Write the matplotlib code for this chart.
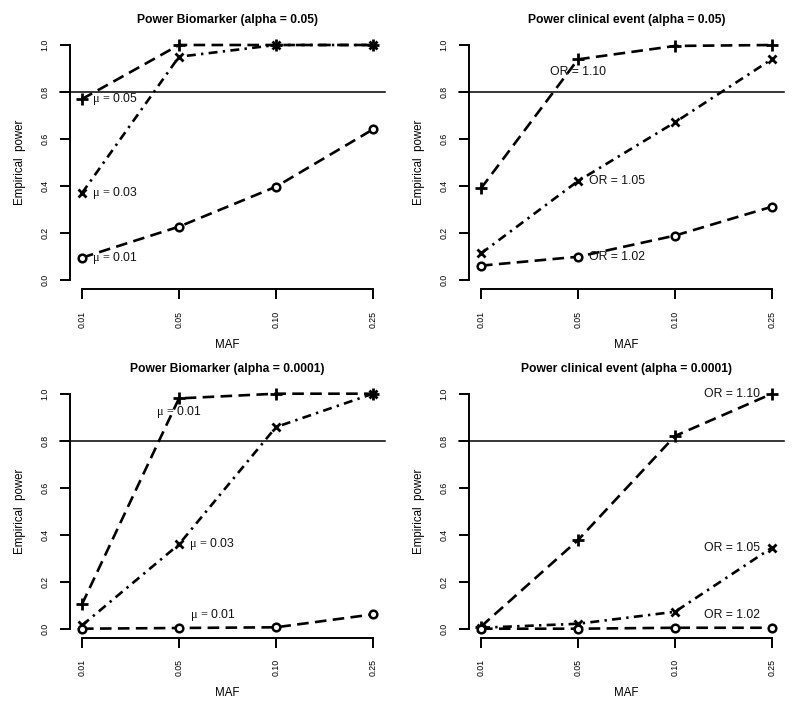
import matplotlib
matplotlib.use("Agg")
import matplotlib.pyplot as plt

plt.rcParams['font.family'] = ['Liberation Sans', 'DejaVu Sans']
plt.rcParams['mathtext.fontset'] = 'custom'
plt.rcParams['mathtext.rm'] = 'Liberation Serif'
plt.rcParams['mathtext.it'] = 'Liberation Serif'
plt.rcParams['mathtext.default'] = 'rm'

maf_labels = ["0.01", "0.05", "0.10", "0.25"]
x_pos = [1, 2, 3, 4]

# Panel 1: Power Biomarker (alpha = 0.05)
bio05_plus = [0.77, 1.00, 1.00, 1.00]
bio05_x = [0.37, 0.95, 1.00, 1.00]
bio05_o = [0.095, 0.227, 0.397, 0.641]

# Panel 2: Power clinical event (alpha = 0.05)
clin05_plus = [0.39, 0.939, 0.996, 1.00]
clin05_x = [0.113, 0.421, 0.671, 0.940]
clin05_o = [0.061, 0.099, 0.189, 0.312]

# Panel 3: Power Biomarker (alpha = 0.0001)
bio0001_plus = [0.104, 0.98, 1.00, 1.00]
bio0001_x = [0.014, 0.359, 0.858, 1.00]
bio0001_o = [0.0, 0.003, 0.006, 0.061]

# Panel 4: Power clinical event (alpha = 0.0001)
clin0001_plus = [0.009, 0.377, 0.82, 1.00]
clin0001_x = [0.004, 0.021, 0.072, 0.345]
clin0001_o = [0.0, 0.0, 0.004, 0.004]

titles = ["Power Biomarker (alpha = 0.05)", "Power clinical event (alpha = 0.05)",
          "Power Biomarker (alpha = 0.0001)", "Power clinical event (alpha = 0.0001)"]

W, H = 800, 713
fig = plt.figure(figsize=(W / 100, H / 100), dpi=100)

# pixel geometry: (x of tick 1, x of tick 4, y of 0, y of 1, title y, xlabel y, ylabel x)
geoms = [
    (82, 373, 280, 45, 20, 345, 20),
    (481, 772, 280, 45, 20, 345, 419),
    (82, 373, 628.7, 393.7, 369, 693, 20),
    (481, 772, 628.7, 393.7, 369, 693, 419),
]

LW = 1.9
dash_long = (4.4, 2.4)
dash_dot = (3.4, 2.0, 0.9, 2.0)

def mu(v):
    return r"$\mu\,=\,$" + v

panels = [
    (bio05_plus, bio05_x, bio05_o,
     [(mu("0.05"), 1, bio05_plus[0], (7, 0), 'left', 'center'),
      (mu("0.03"), 1, bio05_x[0], (7, 0), 'left', 'center'),
      (mu("0.01"), 1, bio05_o[0], (7, 0), 'left', 'center')]),
    (clin05_plus, clin05_x, clin05_o,
     [("OR = 1.10", 2, clin05_plus[1], (0, -9), 'center', 'center'),
      ("OR = 1.05", 2, clin05_x[1], (8, 0), 'left', 'center'),
      ("OR = 1.02", 2, clin05_o[1], (8, 0), 'left', 'center')]),
    (bio0001_plus, bio0001_x, bio0001_o,
     [(mu("0.01"), 2, bio0001_plus[1], (0, -10), 'center', 'center'),
      (mu("0.03"), 2, bio0001_x[1], (7.5, 0), 'left', 'center'),
      (mu("0.01"), 2, bio0001_o[1], (8, 9), 'left', 'center')]),
    (clin0001_plus, clin0001_x, clin0001_o,
     [("OR = 1.10", 4, clin0001_plus[3], (-8.5, 0), 'right', 'center'),
      ("OR = 1.05", 4, clin0001_x[3], (-8.5, 0), 'right', 'center'),
      ("OR = 1.02", 4, clin0001_o[3], (-8.5, 9.5), 'right', 'center')]),
]

for (g, title, (yp, yx, yo, labels)) in zip(geoms, titles, panels):
    x1, x4, y0, y1, ty, xly, ylx = g
    ux = (x4 - x1) / 3.0
    uy = (y0 - y1)
    left = x1 - 0.12 * ux
    right = x4 + 0.12 * ux
    bottom = y0 + 0.04 * uy
    top = y1 - 0.04 * uy
    ax = fig.add_axes([left / W, 1 - bottom / H, (right - left) / W, (bottom - top) / H])
    ax.set_xlim(0.88, 4.12)
    ax.set_ylim(-0.04, 1.04)
    ax.patch.set_alpha(0)
    for s in ['top', 'right']:
        ax.spines[s].set_visible(False)
    ax.spines['left'].set_bounds(0, 1)
    ax.spines['bottom'].set_bounds(1, 4)
    for s in ['left', 'bottom']:
        ax.spines[s].set_linewidth(1.4)
    ax.set_xticks(x_pos)
    ax.set_xticklabels(maf_labels, rotation=90, fontsize=6.3)
    ax.set_yticks([0, 0.2, 0.4, 0.6, 0.8, 1.0])
    ax.set_yticklabels(["0.0", "0.2", "0.4", "0.6", "0.8", "1.0"], rotation=90,
                       va='center', fontsize=6.3)
    ax.tick_params(axis='both', length=7.2, width=1.4, color='black')
    ax.tick_params(axis='x', pad=8)
    ax.tick_params(axis='y', pad=8)

    ax.axhline(0.8, xmin=-0.032, xmax=1, color='black', lw=1.1, clip_on=False, zorder=1)

    ax.plot(x_pos, yp, color='black', lw=LW, dashes=dash_long, marker='+', ms=9,
            mew=2.0, zorder=3)
    ax.plot(x_pos, yx, color='black', lw=LW, dashes=dash_dot, marker='x', ms=6,
            mew=2.0, zorder=3)
    ax.plot(x_pos, yo, color='black', lw=LW, dashes=dash_long, marker='o', ms=5.5,
            mew=1.8, mfc='white', zorder=3)

    for (txt, xx, yy, off, ha, va) in labels:
        ax.annotate(txt, xy=(xx, yy), xytext=off, textcoords='offset points',
                    ha=ha, va=va, fontsize=8.8, color='#111111', zorder=4)

    fig.text(((left + right) / 2) / W, 1 - ty / H, title, ha='center', va='center',
             fontsize=8.7, fontweight='bold')
    fig.text(((left + right) / 2) / W, 1 - xly / H, "MAF", ha='center', va='center',
             fontsize=8.3)
    fig.text(ylx / W, 1 - ((y0 + y1) / 2) / H, "Empirical  power", ha='center',
             va='center', rotation=90, fontsize=8.3)

fig.savefig("out.png", dpi=100)
